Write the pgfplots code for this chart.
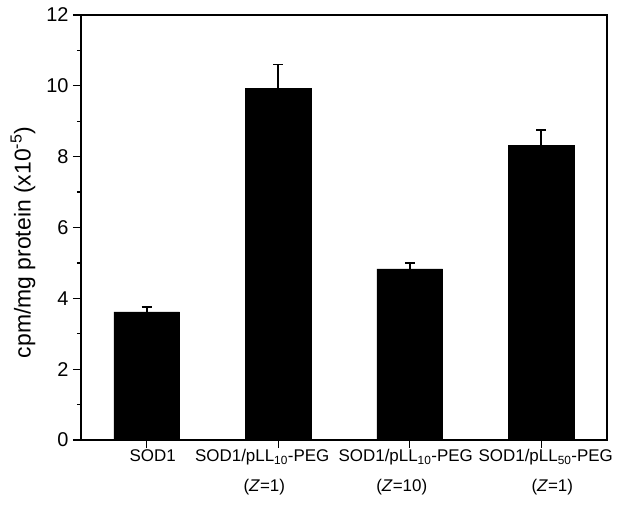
\documentclass[border=0pt]{standalone}
\usepackage{fontspec}
\setmainfont{Liberation Sans}
\usepackage{pgfplots}
\pgfplotsset{compat=1.18}
\begin{document}
\begin{tikzpicture}
\path[use as bounding box] (-81bp,-66bp) rectangle (537bp,440bp);
\begin{axis}[
  at={(0,0)}, anchor=south west,
  scale only axis, width=526bp, height=425bp,
  xmin=-0.5, xmax=3.5, ymin=0, ymax=12,
  ytick={0,2,...,12}, minor y tick num=1,
  xtick={0,1,2,3},
  xticklabels={{\hspace*{12bp}SOD1},
    {\hspace*{-32bp}SOD1/pLL\textsubscript{10}-PEG\\\hspace*{-28bp}(\textit{Z}=1)},
    {\hspace*{-8bp}SOD1/pLL\textsubscript{10}-PEG\\\hspace*{-16bp}(\textit{Z}=10)},
    {\hspace*{9bp}SOD1/pLL\textsubscript{50}-PEG\\\hspace*{22bp}(\textit{Z}=1)}},
  xticklabel style={align=center, font=\fontsize{17}{30}\selectfont, yshift=2bp},
  yticklabel style={font=\fontsize{20}{22}\selectfont, xshift=-1bp},
  /pgf/number format/assume math mode=true,
  tick align=outside, ytick pos=left, xtick pos=bottom,
  axis line style={line width=1.3bp},
  every tick/.style={line width=1.3bp, black},
  major tick length=8bp, minor tick length=4bp,
  ylabel={cpm/mg protein (x10\textsuperscript{-5})},
  ylabel style={font=\fontsize{23}{25}\selectfont, at={(ticklabel cs:0.465)}, yshift=4bp},
  ybar, bar width=0.5,
]
\addplot[fill=black, draw=black,
  error bars/.cd, y dir=plus, y explicit,
  error bar style={line width=1.6bp, black},
  error mark options={line width=1.6bp, mark size=5bp, rotate=90}]
  coordinates {
  (0,3.62) +- (0,0.13)
  (1,9.93) +- (0,0.67)
  (2,4.83) +- (0,0.16)
  (3,8.31) +- (0,0.45)
};
\end{axis}
\end{tikzpicture}
\end{document}
